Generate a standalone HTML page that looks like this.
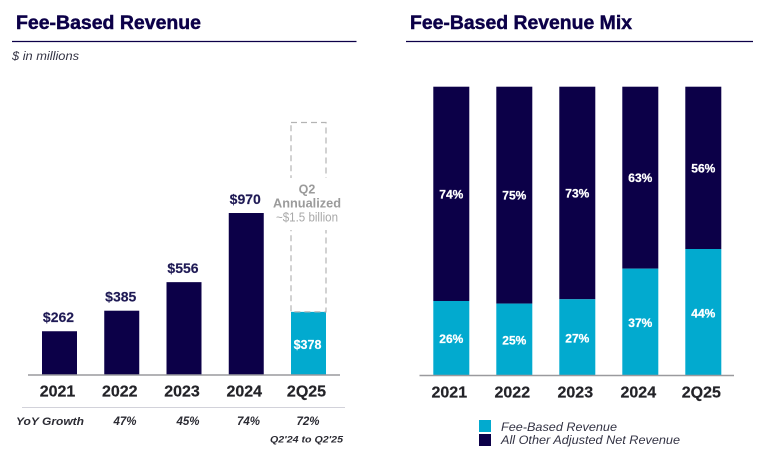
<!DOCTYPE html>
<html lang="en">
<head>
<meta charset="utf-8">
<title>Fee-Based Revenue</title>
<style>
html,body{margin:0;padding:0;background:#fff;width:764px;height:461px;overflow:hidden}
svg{display:block}
text{font-family:"Liberation Sans",sans-serif}
.b{font-weight:700}
.i{font-style:italic}
</style>
</head>
<body>
<svg id="chart" xmlns="http://www.w3.org/2000/svg" width="764" height="461" viewBox="0 0 764 461">
  <rect x="0" y="0" width="764" height="461" fill="#ffffff"/>
  <text class="b" x="16" y="29" font-size="19" fill="#0c0048" stroke="#0c0048" stroke-width="0.45" textLength="185" lengthAdjust="spacingAndGlyphs">Fee-Based Revenue</text>
  <line x1="12" x2="356.5" y1="41.5" y2="41.5" stroke="#0c0048" stroke-width="1.3"/>
  <text class="i" x="12" y="60" font-size="12" fill="#333344" textLength="67" lengthAdjust="spacingAndGlyphs">$ in millions</text>

  <text class="b" x="410" y="29" font-size="19" fill="#0c0048" stroke="#0c0048" stroke-width="0.45" textLength="222" lengthAdjust="spacingAndGlyphs">Fee-Based Revenue Mix</text>
  <line x1="406" x2="753" y1="41.5" y2="41.5" stroke="#0c0048" stroke-width="1.3"/>

  <g id="left-marks"></g>
  <g id="right-marks"></g>

  <text class="b" x="307" y="193.7" font-size="12.5" fill="#9b9b9b" text-anchor="middle">Q2</text>
  <text class="b" x="307" y="207.5" font-size="12.5" fill="#9b9b9b" text-anchor="middle" textLength="68" lengthAdjust="spacingAndGlyphs">Annualized</text>
  <text x="307" y="221.7" font-size="12.5" fill="#a8a8a8" text-anchor="middle" textLength="62" lengthAdjust="spacingAndGlyphs">~$1.5 billion</text>

  <line x1="28" x2="340" y1="375" y2="375" stroke="#9a9a9e" stroke-width="1.5"/>
  <line x1="419.5" x2="734" y1="375.5" y2="375.5" stroke="#9a9a9e" stroke-width="1.5"/>

  <line x1="22" x2="345" y1="407.5" y2="407.5" stroke="#d2d2da" stroke-width="1"/>
  <text class="b i" x="16" y="425" font-size="11" fill="#2b2b33" textLength="68" lengthAdjust="spacingAndGlyphs">YoY Growth</text>
  <text class="b i" x="125" y="425" font-size="11.5" fill="#2b2b33" text-anchor="middle">47%</text>
  <text class="b i" x="188" y="425" font-size="11.5" fill="#2b2b33" text-anchor="middle">45%</text>
  <text class="b i" x="248.5" y="425" font-size="11.5" fill="#2b2b33" text-anchor="middle">74%</text>
  <text class="b i" x="308" y="425" font-size="11.5" fill="#2b2b33" text-anchor="middle">72%</text>
  <text class="b i" x="270" y="442.5" font-size="9.5" fill="#2b2b33" textLength="73" lengthAdjust="spacingAndGlyphs">Q2'24 to Q2'25</text>

  <rect x="479" y="420" width="12" height="12" fill="#02aacf"/>
  <text class="i" x="501" y="431" font-size="12" fill="#333344" textLength="116" lengthAdjust="spacingAndGlyphs">Fee-Based Revenue</text>
  <rect x="479" y="434" width="12" height="12" fill="#0c0048"/>
  <text class="i" x="501" y="444" font-size="12" fill="#333344" textLength="179" lengthAdjust="spacingAndGlyphs">All Other Adjusted Net Revenue</text>

  <script>
    const categories = ['2021', '2022', '2023', '2024', '2Q25'];
    const revenueValues = [262, 385, 556, 970, 378];
    const revenueLabels = ['$262', '$385', '$556', '$970', '$378'];
    const annualizedValue = 1512;
    const feeShare = [25.8, 24.9, 26.4, 37, 43.8];
    const otherShare = [74.2, 75.1, 73.6, 63, 56.2];
    const feeLabels = ['26%', '25%', '27%', '37%', '44%'];
    const otherLabels = ['74%', '75%', '73%', '63%', '56%'];

    const NS = 'http://www.w3.org/2000/svg';
    const NAVY = '#0c0048';
    const TEAL = '#02aacf';
    const leftG = document.getElementById('left-marks');
    const rightG = document.getElementById('right-marks');

    // left-chart axis functions
    const leftX = i => 42 + i * 62.25;
    const leftBarW = 35;
    const leftH = v => v * 0.167;
    const leftY = v => 375 - leftH(v);

    // right-chart axis functions
    const rightX = i => 433.3 + i * 63;
    const rightBarW = 36;
    const rightH = v => v * 2.888;
    const rightY = v => 375.5 - rightH(v);

    function shape(parent, tag, attrs) {
      const el = document.createElementNS(NS, tag);
      for (const k in attrs) el.setAttribute(k, attrs[k]);
      parent.appendChild(el);
      return el;
    }
    function label(parent, str, x, y, size, fill, bold, heavy) {
      const el = shape(parent, 'text', { x: x, y: y, 'font-size': size, fill: fill, 'text-anchor': 'middle' });
      if (bold) el.setAttribute('font-weight', '700');
      if (heavy) {
        el.setAttribute('stroke', fill);
        el.setAttribute('stroke-width', heavy);
      }
      el.textContent = str;
      return el;
    }

    categories.forEach((cat, i) => {
      const lx = leftX(i);
      const lc = lx + leftBarW / 2;
      const isPartial = i === categories.length - 1;

      const bar = shape(leftG, 'rect', {
        x: lx, y: leftY(revenueValues[i]), width: leftBarW, height: leftH(revenueValues[i]),
        fill: isPartial ? TEAL : NAVY
      });
      
      

      if (isPartial) {
        const ghost = shape(leftG, 'rect', {
          x: lx, y: leftY(annualizedValue), width: leftBarW,
          height: leftH(annualizedValue - revenueValues[i]),
          fill: 'none', stroke: '#b4b4b4', 'stroke-width': 1.2, 'stroke-dasharray': '6 4'
        });
        
        
        const gap = shape(leftG, 'rect', {
          x: lx - 3, y: 178, width: leftBarW + 6, height: 52, fill: '#ffffff'
        });
        
        
      }

      const valueY = isPartial ? 349 : leftY(revenueValues[i]) - 9;
      const val = label(leftG, revenueLabels[i], lc - 1, valueY, isPartial ? 12.5 : 14, isPartial ? '#ffffff' : '#1f1a55', true, 0.15);
      
      

      const tick = label(leftG, cat, lc - 2, 396.7, 16, '#232328', true, 0.2);
      
      

      const rx = rightX(i);
      const rc = rx + rightBarW / 2;
      const feeTop = rightY(feeShare[i]);
      const otherTop = rightY(feeShare[i] + otherShare[i]);

      const other = shape(rightG, 'rect', {
        x: rx, y: otherTop, width: rightBarW, height: rightH(otherShare[i]), fill: NAVY
      });
      
      

      const fee = shape(rightG, 'rect', {
        x: rx, y: feeTop, width: rightBarW, height: rightH(feeShare[i]), fill: TEAL
      });
      
      

      const otherText = label(rightG, otherLabels[i], rc, (otherTop + feeTop) / 2 + 4.5, 12, '#ffffff', true, 0.25);
      
      

      const feeText = label(rightG, feeLabels[i], rc, (feeTop + 375.5) / 2 + 5, 12, '#ffffff', true, 0.25);
      
      

      const rTick = label(rightG, cat, rc - 2, 397.5, 16, '#232328', true, 0.2);
      
      
    });
  </script>
</svg>
</body>
</html>
